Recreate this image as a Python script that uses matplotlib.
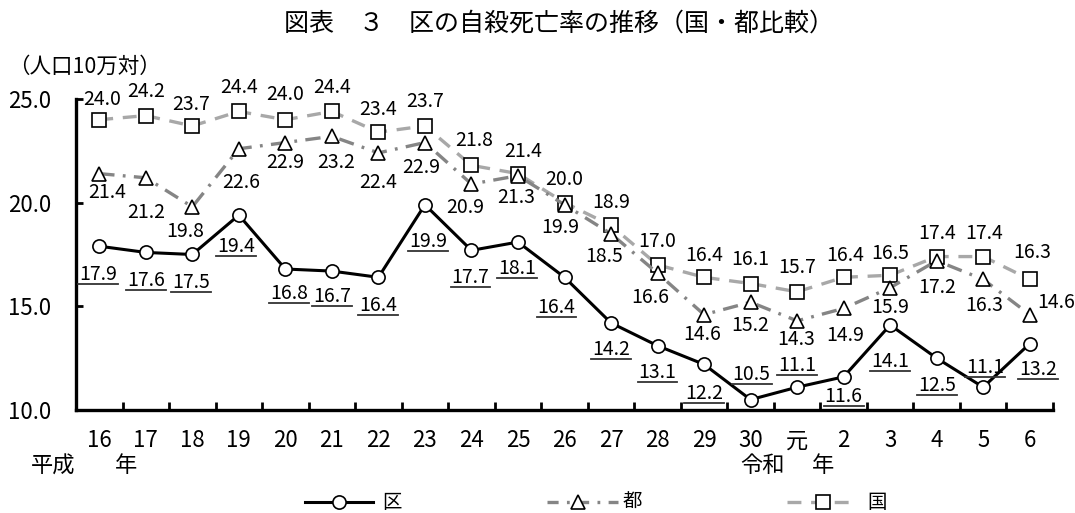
import matplotlib
matplotlib.use("Agg")
import matplotlib.pyplot as plt
from matplotlib.lines import Line2D

plt.rcParams['font.family'] = ['Noto Sans CJK JP', 'DejaVu Sans']
plt.rcParams['lines.scale_dashes'] = False

# ---- data ----
years = ['16', '17', '18', '19', '20', '21', '22', '23', '24', '25', '26',
         '27', '28', '29', '30', '元', '2', '3', '4', '5', '6']
ku = [17.9, 17.6, 17.5, 19.4, 16.8, 16.7, 16.4, 19.9, 17.7, 18.1, 16.4,
      14.2, 13.1, 12.2, 10.5, 11.1, 11.6, 14.1, 12.5, 11.1, 13.2]
to = [21.4, 21.2, 19.8, 22.6, 22.9, 23.2, 22.4, 22.9, 20.9, 21.3, 19.9,
      18.5, 16.6, 14.6, 15.2, 14.3, 14.9, 15.9, 17.2, 16.3, 14.6]
kuni = [24.0, 24.2, 23.7, 24.4, 24.0, 24.4, 23.4, 23.7, 21.8, 21.4, 20.0,
        18.9, 17.0, 16.4, 16.1, 15.7, 16.4, 16.5, 17.4, 17.4, 16.3]
yticks = [10, 15, 20, 25]

# label offsets in pixels (dx, dy up) from each point
ku_off = [(-1, -28), (0, -28), (-1, -28), (-3, -31), (4, -24), (0, -25), (0, -28),
          (3, -37), (-1, -27), (-1, -26), (-8, -30), (0, -27), (0, -27), (0, -29),
          (1, 25), (0, 22), (0, -20), (0, -37), (0, -27), (2, 20), (8, -26)]
to_off = [(8, -19), (0, -35), (-7, -25), (2, -34), (0, -20), (4, -26), (0, -30),
          (-4, -25), (-6, -23), (-2, -22), (-4, -23), (-7, -23), (-7, -24), (-2, -20),
          (0, -23), (-1, -19), (2, -27), (0, -20), (0, -27), (1, -26), (26, 12)]
kuni_off = [(3, 20), (0, 24), (-1, 21), (0, 24), (0, 25), (0, 24), (0, 23),
            (0, 24), (3, 25), (5, 22), (0, 23), (0, 23), (0, 23), (0, 22),
            (0, 24), (0, 24), (2, 22), (0, 22), (0, 23), (1, 23), (2, 27)]

W, H = 1075, 513
fig = plt.figure(figsize=(W / 100, H / 100), dpi=100)
ax = fig.add_axes([76 / W, 103 / H, 977 / W, 311 / H])

x = list(range(len(years)))
c_to = '#858585'
c_kuni = '#a8a8a8'

ax.plot(x, kuni, color=c_kuni, lw=2.4, dashes=(10, 7), marker='s', ms=9.5,
        mfc='white', mec='black', mew=1.2, zorder=3, clip_on=False)
ax.plot(x, to, color=c_to, lw=2.4, dashes=(11, 6, 2, 6), marker='^', ms=9.5,
        mfc='white', mec='black', mew=1.2, zorder=4, clip_on=False)
ax.plot(x, ku, color='black', lw=2.2, marker='o', ms=9.5,
        mfc='white', mec='black', mew=1.2, zorder=5, clip_on=False)

ax.set_xlim(-0.5, len(years) - 0.5)
ax.set_ylim(10, 25)

for s in ['top', 'right']:
    ax.spines[s].set_visible(False)
for s in ['left', 'bottom']:
    ax.spines[s].set_linewidth(2.4)

ax.set_yticks(yticks)
ax.set_yticklabels([f'{v:.1f}' for v in yticks], fontsize=16)
ax.tick_params(axis='y', direction='in', length=5, width=2, pad=18)

ax.set_xticks(x)
ax.set_xticklabels(years, fontsize=16)
ax.set_xticks([i + 0.5 for i in x], minor=True)
ax.tick_params(axis='x', which='major', length=0, pad=14)
ax.tick_params(axis='x', which='minor', direction='in', length=6, width=2)

lab_fs = 14
ku_texts = []
for i, v in enumerate(ku):
    dx, dy = ku_off[i]
    t = ax.annotate(f'{v:.1f}', (i, v), xytext=(dx * 0.72, dy * 0.72),
                    textcoords='offset points', ha='center', va='center',
                    fontsize=lab_fs, zorder=6, annotation_clip=False)
    ku_texts.append(t)
for i, v in enumerate(to):
    dx, dy = to_off[i]
    ax.annotate(f'{v:.1f}', (i, v), xytext=(dx * 0.72, dy * 0.72),
                textcoords='offset points', ha='center', va='center',
                fontsize=lab_fs, zorder=6, annotation_clip=False)
for i, v in enumerate(kuni):
    dx, dy = kuni_off[i]
    ax.annotate(f'{v:.1f}', (i, v), xytext=(dx * 0.72, dy * 0.72),
                textcoords='offset points', ha='center', va='center',
                fontsize=lab_fs, zorder=6, annotation_clip=False)

# titles and era captions
fig.text(559 / W, 1 - 24 / H, '図表　３　区の自殺死亡率の推移（国・都比較）',
         ha='center', va='center', fontsize=18)
fig.text(8 / W, 1 - 67 / H, '（人口10万対）', ha='left', va='center', fontsize=15.5)
fig.text(31 / W, 1 - 466 / H, '平成', ha='left', va='center', fontsize=16)
fig.text(115 / W, 1 - 466 / H, '年', ha='left', va='center', fontsize=16)
fig.text(740 / W, 1 - 466 / H, '令和', ha='left', va='center', fontsize=16)
fig.text(812 / W, 1 - 466 / H, '年', ha='left', va='center', fontsize=16)

# legend
ly = 1 - 502 / H
def fx(px):
    return px / W

fig.add_artist(Line2D([fx(305), fx(373)], [ly, ly], color='black', lw=2.2))
fig.add_artist(Line2D([fx(339)], [ly], marker='o', ms=9.5, mfc='white',
                      mec='black', mew=1.2, ls='none'))
fig.text(fx(382), ly, '区', ha='left', va='center', fontsize=14)

fig.add_artist(Line2D([fx(547), fx(618)], [ly, ly], color=c_to, lw=2.4,
                      dashes=(8, 6, 2, 6)))
fig.add_artist(Line2D([fx(578)], [ly], marker='^', ms=9.5, mfc='white',
                      mec='black', mew=1.2, ls='none'))
fig.text(fx(623), ly, '都', ha='left', va='center', fontsize=14)

fig.add_artist(Line2D([fx(787), fx(855)], [ly, ly], color=c_kuni, lw=2.4,
                      dashes=(10, 7)))
fig.add_artist(Line2D([fx(823)], [ly], marker='s', ms=9.5, mfc='white',
                      mec='black', mew=1.2, ls='none'))
fig.text(fx(867), ly, '国', ha='left', va='center', fontsize=14)

# underline the ward labels
fig.canvas.draw()
r = fig.canvas.get_renderer()
for t in ku_texts:
    bb = t.get_window_extent(r)
    yy = (bb.y0 + 1) / H
    fig.add_artist(Line2D([(bb.x0 - 1) / W, (bb.x1 + 1) / W], [yy, yy],
                          color='#333333', lw=1.3, zorder=6))

fig.savefig('out.png', dpi=100)
